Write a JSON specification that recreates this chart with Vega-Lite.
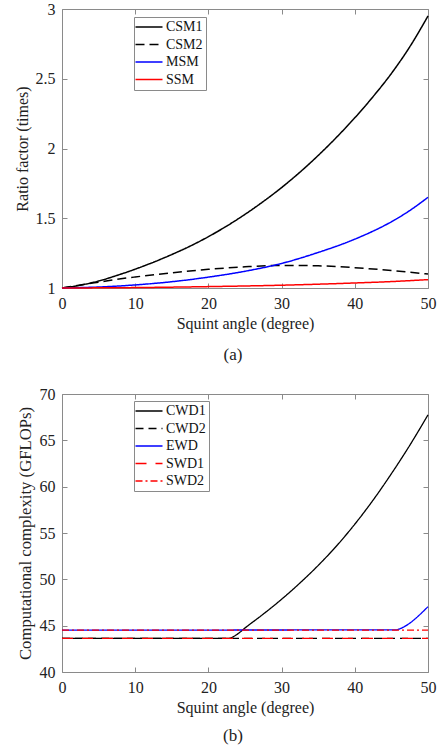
{
  "$schema": "https://vega.github.io/schema/vega-lite/v6.json",
  "padding": {"left": 13, "top": 0, "right": 5, "bottom": 5},
  "background": "white",
  "datasets": {
    "a": [
      {"series": "CSM1", "angle": 0, "value": 1},
      {"series": "CSM1", "angle": 2.5, "value": 1.02},
      {"series": "CSM1", "angle": 5, "value": 1.05},
      {"series": "CSM1", "angle": 7.5, "value": 1.09},
      {"series": "CSM1", "angle": 10, "value": 1.135},
      {"series": "CSM1", "angle": 12.5, "value": 1.185},
      {"series": "CSM1", "angle": 15, "value": 1.24},
      {"series": "CSM1", "angle": 17.5, "value": 1.3},
      {"series": "CSM1", "angle": 20, "value": 1.368},
      {"series": "CSM1", "angle": 22.5, "value": 1.444},
      {"series": "CSM1", "angle": 25, "value": 1.528},
      {"series": "CSM1", "angle": 27.5, "value": 1.62},
      {"series": "CSM1", "angle": 30, "value": 1.72},
      {"series": "CSM1", "angle": 32.5, "value": 1.83},
      {"series": "CSM1", "angle": 35, "value": 1.95},
      {"series": "CSM1", "angle": 37.5, "value": 2.08},
      {"series": "CSM1", "angle": 40, "value": 2.22},
      {"series": "CSM1", "angle": 42.5, "value": 2.372},
      {"series": "CSM1", "angle": 45, "value": 2.538},
      {"series": "CSM1", "angle": 47.5, "value": 2.728},
      {"series": "CSM1", "angle": 50, "value": 2.95},
      {"series": "CSM2", "angle": 0, "value": 1},
      {"series": "CSM2", "angle": 2.5, "value": 1.022},
      {"series": "CSM2", "angle": 5, "value": 1.042},
      {"series": "CSM2", "angle": 7.5, "value": 1.062},
      {"series": "CSM2", "angle": 10, "value": 1.079},
      {"series": "CSM2", "angle": 15, "value": 1.109},
      {"series": "CSM2", "angle": 20, "value": 1.134},
      {"series": "CSM2", "angle": 25, "value": 1.152},
      {"series": "CSM2", "angle": 30, "value": 1.162},
      {"series": "CSM2", "angle": 35, "value": 1.159},
      {"series": "CSM2", "angle": 40, "value": 1.146},
      {"series": "CSM2", "angle": 45, "value": 1.125},
      {"series": "CSM2", "angle": 50, "value": 1.1},
      {"series": "MSM", "angle": 0, "value": 1},
      {"series": "MSM", "angle": 5, "value": 1.007},
      {"series": "MSM", "angle": 10, "value": 1.022},
      {"series": "MSM", "angle": 15, "value": 1.045},
      {"series": "MSM", "angle": 20, "value": 1.078},
      {"series": "MSM", "angle": 25, "value": 1.12},
      {"series": "MSM", "angle": 30, "value": 1.176},
      {"series": "MSM", "angle": 35, "value": 1.255},
      {"series": "MSM", "angle": 40, "value": 1.35},
      {"series": "MSM", "angle": 45, "value": 1.475},
      {"series": "MSM", "angle": 47.5, "value": 1.555},
      {"series": "MSM", "angle": 50, "value": 1.65},
      {"series": "SSM", "angle": 0, "value": 1},
      {"series": "SSM", "angle": 10, "value": 1.003},
      {"series": "SSM", "angle": 20, "value": 1.01},
      {"series": "SSM", "angle": 30, "value": 1.02},
      {"series": "SSM", "angle": 40, "value": 1.036},
      {"series": "SSM", "angle": 45, "value": 1.046},
      {"series": "SSM", "angle": 50, "value": 1.06}
    ],
    "b": [
      {"series": "CWD1", "angle": 0, "value": 43.62},
      {"series": "CWD1", "angle": 22.7, "value": 43.62},
      {"series": "CWD1", "angle": 23.9, "value": 44.05},
      {"series": "CWD1", "angle": 25, "value": 44.75},
      {"series": "CWD1", "angle": 27.5, "value": 46.25},
      {"series": "CWD1", "angle": 30, "value": 47.85},
      {"series": "CWD1", "angle": 32.5, "value": 49.6},
      {"series": "CWD1", "angle": 35, "value": 51.5},
      {"series": "CWD1", "angle": 37.5, "value": 53.6},
      {"series": "CWD1", "angle": 40, "value": 55.95},
      {"series": "CWD1", "angle": 42.5, "value": 58.55},
      {"series": "CWD1", "angle": 45, "value": 61.4},
      {"series": "CWD1", "angle": 47.5, "value": 64.45},
      {"series": "CWD1", "angle": 50, "value": 67.75},
      {"series": "CWD2", "angle": 0, "value": 43.62},
      {"series": "CWD2", "angle": 50, "value": 43.62},
      {"series": "EWD", "angle": 0, "value": 44.52},
      {"series": "EWD", "angle": 45.7, "value": 44.55},
      {"series": "EWD", "angle": 46, "value": 44.62},
      {"series": "EWD", "angle": 50, "value": 47.05},
      {"series": "SWD1", "angle": 0, "value": 43.62},
      {"series": "SWD1", "angle": 50, "value": 43.62},
      {"series": "SWD2", "angle": 0, "value": 44.52},
      {"series": "SWD2", "angle": 50, "value": 44.52}
    ]
  },
  "bounds": "flush",
  "spacing": 106,
  "resolve": {
    "scale": {"color": "independent", "strokeDash": "independent", "strokeWidth": "independent"},
    "legend": {"color": "independent", "strokeDash": "independent", "strokeWidth": "independent"}
  },
  "config": {
    "view": {"stroke": "#8a8a8a", "strokeWidth": 1},
    "axis": {
      "domain": false,
      "grid": false,
      "labelFlush": false,
      "tickColor": "#8a8a8a",
      "tickSize": -5,
      "labelPadding": 12,
      "labelFont": "Liberation Serif",
      "labelFontSize": 16,
      "labelColor": "#222222",
      "titleFont": "Liberation Serif",
      "titleFontSize": 16,
      "titleFontWeight": "normal",
      "titleColor": "#222222"
    },
    "legend": {
      "orient": "none",
      "labelFont": "Liberation Serif",
      "labelFontSize": 14,
      "labelColor": "#111111",
      "strokeColor": "#8a8a8a",
      "fillColor": "white",
      "padding": 3,
      "rowPadding": 3.5,
      "symbolType": "M-3,0H3",
      "symbolSize": 81,
      "symbolOffset": 5,
      "labelOffset": 10
    },
    "title": {
      "font": "Liberation Serif",
      "fontSize": 17,
      "fontWeight": "normal",
      "color": "#222222"
    }
  },
  "vconcat": [
    {
      "width": 366,
      "height": 279,
      "title": {"text": "(a)", "orient": "bottom", "anchor": "middle", "offset": 16, "dx": -12},
      "data": {"name": "a"},
      "layer": [
        {
          "mark": {"type": "line", "strokeWidth": 1.5, "interpolate": "monotone"},
          "encoding": {
            "x": {"field": "angle", "type": "quantitative", "scale": {"domain": [0, 50], "nice": false},
                  "axis": {"values": [0, 10, 20, 30, 40, 50], "title": "Squint angle (degree)", "titlePadding": 4}},
            "y": {"field": "value", "type": "quantitative", "scale": {"domain": [1, 3], "nice": false, "zero": false},
                  "axis": {"values": [1, 1.5, 2, 2.5, 3], "format": "~g", "title": "Ratio factor (times)", "titlePadding": 5}},
            "color": {"field": "series", "type": "nominal",
                      "scale": {"domain": ["CSM1", "CSM2", "MSM", "SSM"], "range": ["#000000", "#000000", "#0000ff", "#ff0000"]},
                      "legend": {"title": null, "legendX": 72, "legendY": 8}},
            "strokeDash": {"field": "series", "type": "nominal",
                           "scale": {"domain": ["CSM1", "CSM2", "MSM", "SSM"], "range": [[1, 0], [9, 5], [1, 0], [1, 0]]},
                           "legend": {"title": null, "legendX": 72, "legendY": 8}}
          }
        },
        {
          "mark": {"type": "point", "opacity": 0},
          "encoding": {
            "x": {"field": "angle", "type": "quantitative", "scale": {"domain": [0, 50], "nice": false},
                  "axis": {"orient": "top", "values": [0, 10, 20, 30, 40, 50], "labels": false, "title": null}},
            "y": {"field": "value", "type": "quantitative", "scale": {"domain": [1, 3], "nice": false, "zero": false},
                  "axis": {"orient": "right", "values": [1, 1.5, 2, 2.5, 3], "labels": false, "title": null}}
          }
        }
      ],
      "resolve": {"axis": {"x": "independent", "y": "independent"}}
    },
    {
      "width": 366,
      "height": 278,
      "title": {"text": "(b)", "orient": "bottom", "anchor": "middle", "offset": 13, "dx": -12},
      "data": {"name": "b"},
      "layer": [
        {
          "mark": {"type": "line", "interpolate": "monotone"},
          "encoding": {
            "x": {"field": "angle", "type": "quantitative", "scale": {"domain": [0, 50], "nice": false},
                  "axis": {"values": [0, 10, 20, 30, 40, 50], "title": "Squint angle (degree)", "titlePadding": 4}},
            "y": {"field": "value", "type": "quantitative", "scale": {"domain": [40, 70], "nice": false, "zero": false},
                  "axis": {"values": [40, 45, 50, 55, 60, 65, 70], "title": "Computational complexity (GFLOPs)", "titlePadding": 5, "titleFontSize": 16.7}},
            "color": {"field": "series", "type": "nominal",
                      "scale": {"domain": ["CWD1", "CWD2", "EWD", "SWD1", "SWD2"], "range": ["#000000", "#000000", "#0000ff", "#ff0000", "#ff0000"]},
                      "legend": {"title": null, "legendX": 72, "legendY": 7}},
            "strokeDash": {"field": "series", "type": "nominal",
                           "scale": {"domain": ["CWD1", "CWD2", "EWD", "SWD1", "SWD2"], "range": [[1, 0], [8, 5], [1, 0], [11, 9], [7, 3, 2, 3]]},
                           "legend": {"title": null, "legendX": 72, "legendY": 7}},
            "strokeWidth": {"field": "series", "type": "nominal",
                           "scale": {"domain": ["CWD1", "CWD2", "EWD", "SWD1", "SWD2"], "range": [1.3, 1.3, 1.1, 3.2, 1.1]},
                           "legend": {"title": null, "legendX": 72, "legendY": 7}}
          }
        },
        {
          "mark": {"type": "point", "opacity": 0},
          "encoding": {
            "x": {"field": "angle", "type": "quantitative", "scale": {"domain": [0, 50], "nice": false},
                  "axis": {"orient": "top", "values": [0, 10, 20, 30, 40, 50], "labels": false, "title": null}},
            "y": {"field": "value", "type": "quantitative", "scale": {"domain": [40, 70], "nice": false, "zero": false},
                  "axis": {"orient": "right", "values": [40, 45, 50, 55, 60, 65, 70], "labels": false, "title": null}}
          }
        }
      ],
      "resolve": {"axis": {"x": "independent", "y": "independent"}}
    }
  ]
}
